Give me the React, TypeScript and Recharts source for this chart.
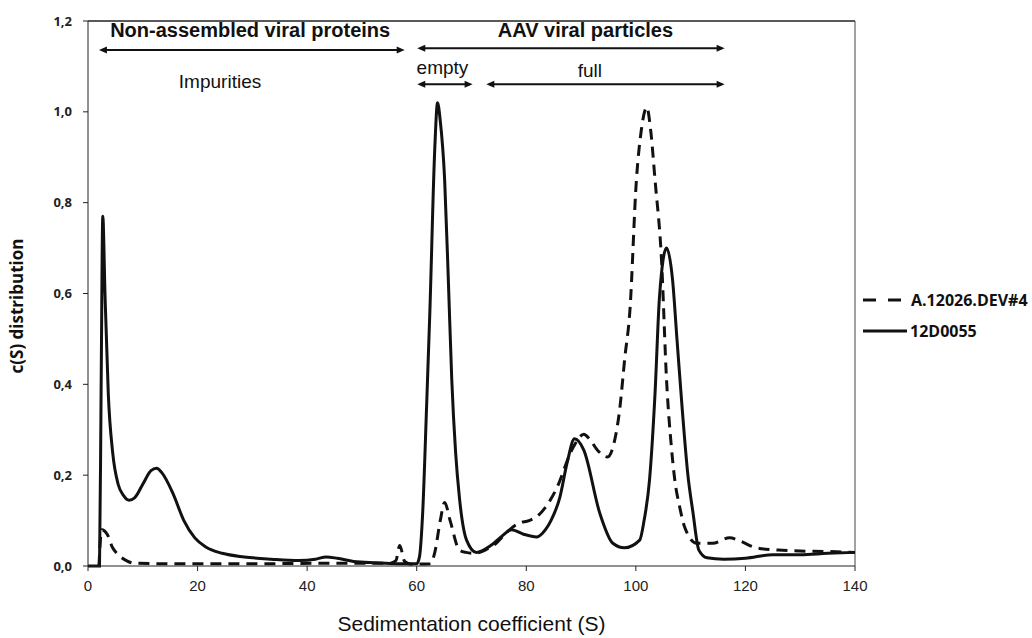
import React from "react";
import { LineChart, Line, XAxis, YAxis, ReferenceLine, ReferenceDot } from "recharts";

// 12D0055 (solid)
const solidX = [
  0, 2.1, 2.4, 2.7, 3.1, 3.7, 4.5, 5.5, 6.5, 7.5, 8.5, 10, 11.5, 12.5, 13.5, 15.5, 17.5, 19.5, 21.5,
  24.5, 28.5, 33.5, 38.5, 41.5, 43.5, 45.5, 48.5, 52.5, 56.5, 60, 60.5, 61.1, 61.8, 62.4, 63.3, 63.8,
  64.3, 65.1, 65.8, 66.4, 67.1, 67.8, 69.1, 70.9, 73.5, 75.5, 77.3, 79.5, 81.9, 83.5, 84.5, 86.1, 87.5,
  88.8, 90.5, 93.4, 95.8, 97.9, 100.7, 101.5, 102.5, 103.5, 104.3, 105.6, 106.7, 107.5, 108.5, 109.5,
  110.4, 111.5, 113, 116, 120, 125, 130, 135, 140,
];
const solidY = [
  0, 0, 0.4, 0.77, 0.6, 0.38, 0.25, 0.18, 0.155, 0.145, 0.15, 0.18, 0.21, 0.215, 0.205, 0.16, 0.1,
  0.062, 0.042, 0.028, 0.02, 0.015, 0.012, 0.015, 0.02, 0.017, 0.01, 0.007, 0.005, 0.005, 0.02, 0.12,
  0.35, 0.56, 0.92, 1.02, 0.98, 0.85, 0.62, 0.41, 0.25, 0.15, 0.057, 0.03, 0.045, 0.065, 0.08, 0.07,
  0.064, 0.08, 0.1, 0.15, 0.23, 0.28, 0.255, 0.117, 0.05, 0.04, 0.057, 0.1, 0.19, 0.38, 0.59, 0.7,
  0.63, 0.5, 0.34, 0.2, 0.12, 0.035, 0.018, 0.015, 0.017, 0.025, 0.025, 0.028, 0.03,
];

// A.12026.DEV#4 (dashed)
const dashedX = [
  2, 2.5, 3.5, 4.5, 5.5, 7, 8.5, 15, 30, 45, 55, 56.2, 56.9, 57.8, 59, 62.5, 63.3, 64.3, 65.1, 66.1,
  67.8, 69, 70.5, 72.5, 74.5, 76.5, 78.8, 80.5, 82.5, 85.5, 88.5, 90.5, 91.5, 93, 94.8, 96, 97, 98,
  98.9, 100.1, 101, 102, 102.7, 103.5, 104.7, 105.6, 106.5, 107.1, 108, 108.9, 111.1, 114, 117.1, 119,
  122, 126, 130, 135, 140,
];
const dashedY = [
  0, 0.08, 0.07, 0.04, 0.025, 0.012, 0.006, 0.005, 0.005, 0.006, 0.006, 0.012, 0.045, 0.01, 0.004,
  0.005, 0.03, 0.1, 0.14, 0.1, 0.035, 0.03, 0.028, 0.035, 0.05, 0.075, 0.095, 0.1, 0.115, 0.17, 0.26,
  0.29, 0.28, 0.255, 0.24, 0.27, 0.34, 0.46, 0.56, 0.85, 0.96, 1.01, 0.96, 0.85, 0.67, 0.41, 0.26,
  0.19, 0.13, 0.086, 0.05, 0.05, 0.062, 0.055, 0.04, 0.035, 0.033, 0.032, 0.03,
];

const xTicks = [0, 20, 40, 60, 80, 100, 120, 140];
const yTicks = [0, 0.2, 0.4, 0.6, 0.8, 1.0, 1.2];

// annotation arrows, in data units
const arrows = [
  { from: 2, to: 57.8, y: 1.136 },
  { from: 60.1, to: 116.2, y: 1.14 },
  { from: 60.1, to: 70.2, y: 1.061 },
  { from: 72.7, to: 116.2, y: 1.061 },
];
const notes = [
  { text: "Non-assembled viral proteins", x: 29.6, y: 1.18, bold: true, size: 20 },
  { text: "AAV viral particles", x: 90.8, y: 1.18, bold: true, size: 20 },
  { text: "Impurities", x: 24.1, y: 1.066, bold: false, size: 19 },
  { text: "empty", x: 64.7, y: 1.098, bold: false, size: 19 },
  { text: "full", x: 91.6, y: 1.09, bold: false, size: 19 },
];

const solidData = solidX.map((x, i) => ({ x, v: solidY[i] }));
const dashedData = dashedX.map((x, i) => ({ x, v: dashedY[i] }));

const FONT = "'Liberation Sans', Arial, sans-serif";
const SANS = "'Open Sans', sans-serif";

function ArrowShape(props: any) {
  const { x1, y1, x2, y2 } = props;
  const h = 8;
  const w = 3.5;
  return (
    <g>
      <line x1={x1 + 3} y1={y1} x2={x2 - 3} y2={y2} stroke="#111" strokeWidth={2} />
      <polygon points={`${x1},${y1} ${x1 + h},${y1 - w} ${x1 + h},${y1 + w}`} fill="#111" />
      <polygon points={`${x2},${y2} ${x2 - h},${y2 - w} ${x2 - h},${y2 + w}`} fill="#111" />
    </g>
  );
}

function LegendBox() {
  return (
    <svg width={171} height={60} style={{ fontFamily: SANS, display: "block" }}>
      <line x1={2} y1={14} x2={15} y2={14} stroke="#111" strokeWidth={3} />
      <line x1={27} y1={14} x2={40} y2={14} stroke="#111" strokeWidth={3} />
      <text x={50} y={14} dominantBaseline="central" fontSize={16} fontWeight={700} fill="#111">
        A.12026.DEV#4
      </text>
      <line x1={2} y1={45} x2={46} y2={45} stroke="#111" strokeWidth={3} />
      <text x={49} y={45} dominantBaseline="central" fontSize={16} fontWeight={700} fill="#111">
        12D0055
      </text>
    </svg>
  );
}

export default function App() {
  return (
    <div style={{ position: "relative", width: 1032, height: 638, background: "#fff" }}>
      <style>{"body{margin:0}"}</style>
      <LineChart width={1032} height={638} margin={{ top: 21, right: 177, bottom: 0, left: 0 }}>
        <XAxis
          type="number"
          dataKey="x"
          domain={[0, 140]}
          ticks={xTicks}
          allowDuplicatedCategory={false}
          height={72}
          tickSize={5}
          tickMargin={9}
          stroke="#222"
          tick={{ fontSize: 15, fill: "#222", fontFamily: FONT }}
          label={{
            value: "Sedimentation coefficient (S)",
            position: "insideBottom",
            offset: 7,
            style: { fontSize: 21, fontFamily: FONT, fill: "#111" },
          }}
        />
        <YAxis
          type="number"
          domain={[0, 1.2]}
          ticks={yTicks}
          width={88}
          tickSize={5}
          tickMargin={11}
          stroke="#222"
          tickFormatter={(v: number) => v.toFixed(1).replace(".", ",")}
          tick={{ fontSize: 13, fill: "#222", fontWeight: 700, fontFamily: SANS }}
          label={{
            content: () => (
              <text
                transform="translate(16,306) rotate(-90)"
                textAnchor="middle"
                dominantBaseline="central"
                fontSize={17}
                fontWeight={700}
                fontFamily={SANS}
                fill="#111"
              >
                c(S) distribution
              </text>
            ),
          }}
        />
        <ReferenceLine y={1.2} stroke="#222" strokeWidth={1.5} />
        <ReferenceLine x={140} stroke="#444" strokeWidth={1} />
        {arrows.map((a, i) => (
          <ReferenceLine
            key={"a" + i}
            segment={[
              { x: a.from, y: a.y },
              { x: a.to, y: a.y },
            ]}
            shape={ArrowShape}
          />
        ))}
        {notes.map((n, i) => (
          <ReferenceDot
            key={"n" + i}
            x={n.x}
            y={n.y}
            r={0}
            shape={(p: any) => (
              <text
                x={p.cx}
                y={p.cy}
                textAnchor="middle"
                dominantBaseline="central"
                fontSize={n.size}
                fontWeight={n.bold ? 700 : 400}
                fontFamily={FONT}
                fill="#111"
              >
                {n.text}
              </text>
            )}
          />
        ))}
        <Line
          data={dashedData}
          dataKey="v"
          name="A.12026.DEV#4"
          type="monotone"
          stroke="#111"
          strokeWidth={3}
          strokeDasharray="11 7"
          dot={false}
          isAnimationActive={false}
        />
        <Line
          data={solidData}
          dataKey="v"
          name="12D0055"
          type="monotone"
          stroke="#111"
          strokeWidth={3}
          dot={false}
          isAnimationActive={false}
        />
      </LineChart>
      <div style={{ position: "absolute", left: 861, top: 286 }}>
        <LegendBox />
      </div>
    </div>
  );
}
